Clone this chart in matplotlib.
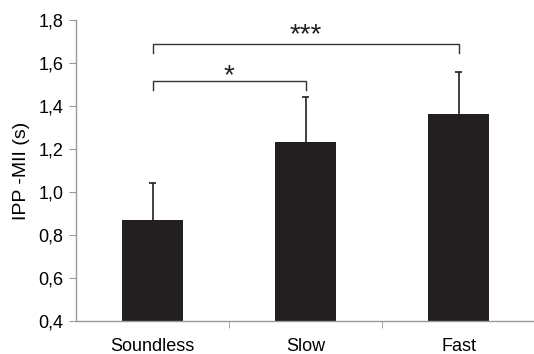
import matplotlib.pyplot as plt
import numpy as np

# data
categories = ['Soundless', 'Slow', 'Fast']
means = [0.87, 1.235, 1.365]
errors_up = [0.17, 0.205, 0.195]
yticks = [0.4, 0.6, 0.8, 1.0, 1.2, 1.4, 1.6, 1.8]
ytick_labels = ['0,4', '0,6', '0,8', '1,0', '1,2', '1,4', '1,6', '1,8']

# significance brackets: (left idx, right idx, height, label)
brackets = [(0, 1, 1.516, '*'), (0, 2, 1.688, '***')]

plt.rcParams['font.family'] = ['Liberation Sans', 'DejaVu Sans']

fig = plt.figure(figsize=(5.34, 3.54), dpi=100)
ax = fig.add_axes([0.1423, 0.093, 0.86, 0.8505])

x = np.arange(len(categories))
ax.bar(x, means, width=0.4, color='#231f20', zorder=2)

# upper-only error bars, drawn as stem + cap
tops = np.array(means) + np.array(errors_up)
ax.vlines(x, means, tops, color='#231f20', lw=1.2, zorder=1)
ax.hlines(tops, x - 0.022, x + 0.022, color='#231f20', lw=1.2, zorder=1)

star_offset = [-0.012, 0.008]
for (i, j, h, label), off in zip(brackets, star_offset):
    leg = 0.04
    ax.plot([x[i], x[i], x[j], x[j]], [h - leg, h, h, h - leg],
            color='#333333', lw=1.0)
    ax.text((x[i] + x[j]) / 2, h + off, label, ha='center',
            va='baseline', fontsize=20, color='#231f20')

ax.set_xlim(-0.5, 2.5)
ax.set_ylim(0.4, 1.8)
ax.set_yticks(yticks)
ax.set_yticklabels(ytick_labels, fontsize=13)
ax.set_xticks(x)
ax.set_xticklabels(categories, fontsize=13)
ax.set_xticks([0.5, 1.5], minor=True)
ax.tick_params(axis='x', which='major', length=0, pad=12)
ax.tick_params(axis='x', which='minor', length=5, color='#999999')
ax.tick_params(axis='y', length=5, color='#999999', pad=4)
ax.set_ylabel('IPP -MII (s)', fontsize=14, labelpad=6)

for s in ['top', 'right']:
    ax.spines[s].set_visible(False)
for s in ['left', 'bottom']:
    ax.spines[s].set_color('#999999')
    ax.spines[s].set_linewidth(1.0)

fig.savefig('out.png', dpi=100)
